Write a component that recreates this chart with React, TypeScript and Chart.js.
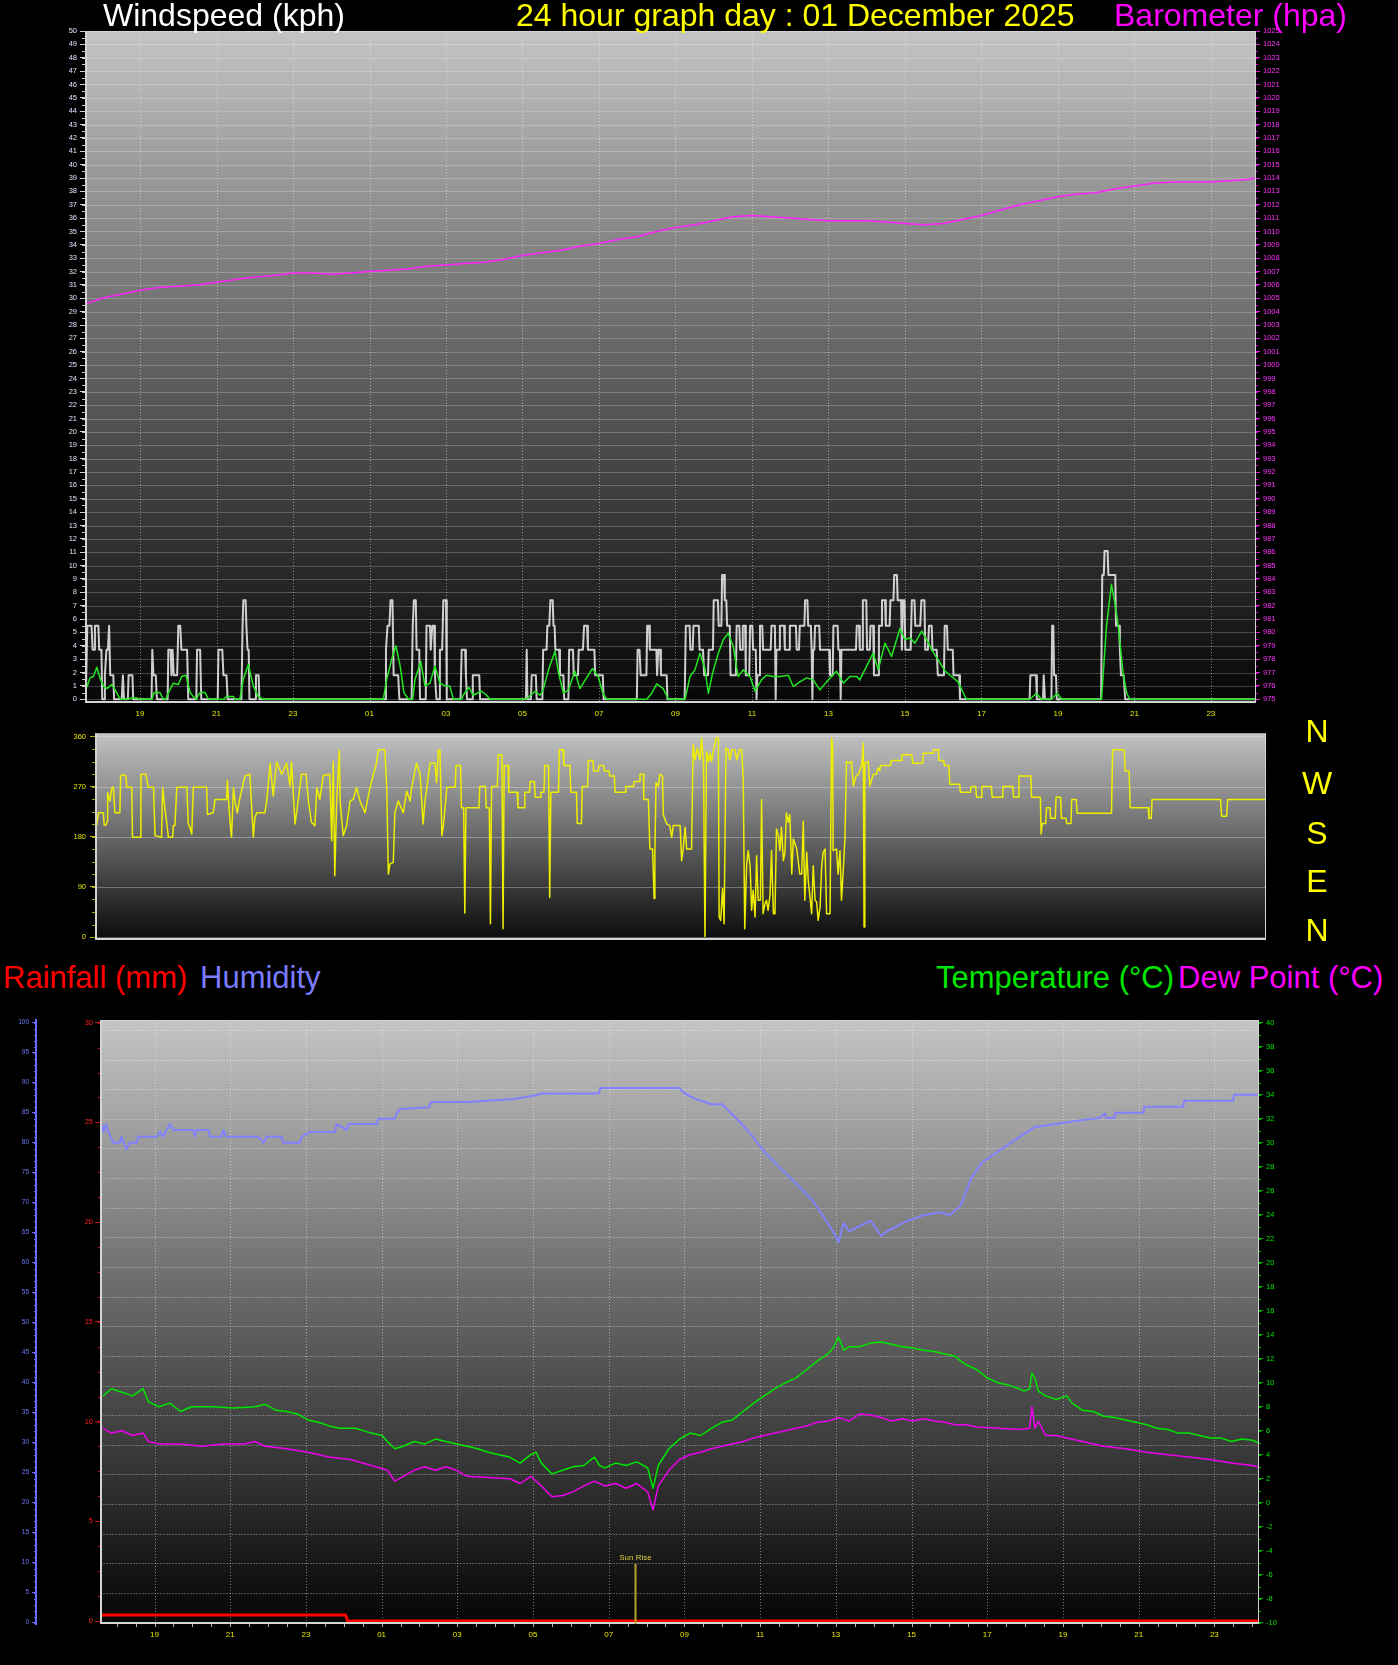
import React, { useEffect, useRef } from "react";
import { Chart, registerables } from "chart.js";

Chart.register(...registerables);

const FONT = "'Liberation Sans', Arial, Helvetica, sans-serif";

// ---- time axis (hours since the previous midnight) ----
const T_MIN = 17.56;
const T_MAX = 48.18;
const HOUR_TICKS = [19, 21, 23, 25, 27, 29, 31, 33, 35, 37, 39, 41, 43, 45, 47];
const HOUR_LABELS = ["19", "21", "23", "01", "03", "05", "07", "09", "11", "13", "15", "17", "19", "21", "23"];
const SUNRISE_T = 31.69;
const SUNRISE_LABEL = "Sun Rise";

// ---- barometer (hPa) ----
const BARO = [
  [17.6, 1004.6], [18.0, 1005.0], [18.5, 1005.3], [19.0, 1005.6], [19.5, 1005.8], [20.0, 1005.9], [20.5, 1006.0],
  [21.0, 1006.2], [21.5, 1006.4], [22.0, 1006.6], [22.5, 1006.7], [23.0, 1006.9], [23.5, 1006.9], [24.0, 1006.8],
  [24.5, 1006.9], [25.0, 1007.0], [25.5, 1007.1], [26.0, 1007.2], [26.5, 1007.4], [27.0, 1007.5], [27.5, 1007.6],
  [28.0, 1007.7], [28.5, 1007.9], [29.0, 1008.2], [29.5, 1008.4], [30.0, 1008.6], [30.5, 1008.9], [31.0, 1009.1],
  [31.5, 1009.4], [32.0, 1009.6], [32.5, 1010.0], [33.0, 1010.3], [33.5, 1010.5], [34.0, 1010.8], [34.5, 1011.1],
  [35.0, 1011.2], [35.5, 1011.1], [36.0, 1011.0], [36.5, 1010.9], [37.0, 1010.8], [37.5, 1010.8], [38.0, 1010.8],
  [38.5, 1010.7], [39.0, 1010.6], [39.5, 1010.5], [40.0, 1010.6], [40.5, 1010.9], [41.0, 1011.2], [41.5, 1011.6],
  [42.0, 1012.0], [42.5, 1012.3], [43.0, 1012.6], [43.5, 1012.8], [44.0, 1012.9], [44.5, 1013.2], [45.0, 1013.4],
  [45.5, 1013.6], [46.0, 1013.7], [46.5, 1013.7], [47.0, 1013.7], [47.5, 1013.8], [48.0, 1013.9], [48.16, 1014.0],
];

// ---- wind gust (kph) ----
const GUST = [
  [17.58, 0], [17.62, 5.5], [17.73, 5.5], [17.76, 3.7], [17.8, 3.7], [17.82, 5.5], [17.91, 5.5], [17.93, 3.7], [17.99, 3.7],
  [18.01, 0], [18.06, 0], [18.08, 1.8], [18.12, 3.7], [18.16, 3.7], [18.19, 5.5], [18.22, 1.8], [18.3, 1.8], [18.32, 0],
  [18.52, 0], [18.55, 1.8], [18.58, 0], [18.68, 0], [18.7, 1.8], [18.8, 1.8], [18.82, 0],
  [19.3, 0], [19.32, 3.7], [19.35, 1.8], [19.41, 1.8], [19.44, 0], [19.72, 0], [19.74, 3.7], [19.8, 3.7], [19.82, 1.8],
  [19.85, 3.7], [19.88, 1.8], [19.97, 1.8], [20.0, 5.5], [20.05, 5.5], [20.08, 3.7], [20.23, 3.7], [20.26, 0], [20.47, 0],
  [20.49, 3.7], [20.57, 3.7], [20.6, 0],
  [21.03, 0], [21.05, 3.7], [21.15, 3.7], [21.18, 1.8], [21.26, 1.8], [21.29, 0], [21.65, 0], [21.68, 5.5], [21.7, 7.4],
  [21.76, 7.4], [21.78, 5.5], [21.81, 3.7], [21.84, 3.7], [21.86, 0], [22.01, 0], [22.03, 1.8], [22.1, 1.8], [22.12, 0],
  [25.41, 0], [25.43, 3.7], [25.47, 5.5], [25.52, 5.5], [25.55, 7.4], [25.6, 7.4], [25.63, 1.8], [25.75, 1.8], [25.78, 0],
  [26.1, 0], [26.13, 5.5], [26.16, 7.4], [26.21, 7.4], [26.23, 3.7], [26.3, 3.7], [26.32, 0], [26.47, 0], [26.49, 5.5],
  [26.58, 5.5], [26.6, 3.7], [26.64, 5.5], [26.69, 5.5], [26.71, 1.8], [26.75, 0], [26.82, 0], [26.84, 3.7], [26.9, 3.7],
  [26.93, 7.4], [27.0, 7.4], [27.02, 0],
  [27.38, 0], [27.41, 3.7], [27.5, 3.7], [27.52, 1.8], [27.55, 0], [27.68, 0], [27.7, 1.8], [27.87, 1.8], [27.89, 0],
  [29.09, 0], [29.11, 3.7], [29.13, 0], [29.22, 0], [29.24, 1.8], [29.35, 1.8], [29.37, 0], [29.52, 0], [29.54, 3.7],
  [29.63, 3.7], [29.65, 5.5], [29.7, 5.5], [29.73, 7.4], [29.79, 7.4], [29.81, 5.5], [29.84, 5.5], [29.86, 3.7],
  [29.96, 3.7], [29.98, 1.8], [30.07, 1.8], [30.09, 0], [30.2, 0], [30.22, 3.7], [30.32, 3.7], [30.34, 1.8], [30.45, 1.8],
  [30.47, 3.7], [30.58, 3.7], [30.61, 5.5], [30.69, 5.5], [30.71, 3.7], [30.88, 3.7], [30.9, 1.8], [31.1, 1.8], [31.12, 0],
  [31.99, 0], [32.01, 3.7], [32.06, 3.7], [32.09, 1.8], [32.24, 1.8], [32.26, 5.5], [32.31, 5.5], [32.33, 3.7], [32.5, 3.7],
  [32.52, 1.8], [32.55, 3.7], [32.6, 3.7], [32.62, 1.8], [32.77, 1.8], [32.79, 0],
  [33.24, 0], [33.27, 5.5], [33.37, 5.5], [33.39, 3.7], [33.45, 3.7], [33.47, 5.5], [33.61, 5.5], [33.63, 3.7], [33.72, 3.7],
  [33.75, 1.8], [33.85, 1.8], [33.87, 3.7], [33.98, 3.7], [34.0, 7.4], [34.11, 7.4], [34.13, 5.5], [34.2, 5.5], [34.22, 9.3],
  [34.27, 9.3], [34.29, 7.4], [34.33, 7.4], [34.35, 5.5], [34.42, 5.5], [34.44, 1.8], [34.58, 1.8], [34.6, 5.5], [34.67, 5.5],
  [34.69, 3.7], [34.74, 3.7], [34.76, 5.5], [34.82, 5.5], [34.84, 1.8], [34.93, 1.8], [34.95, 5.5], [35.01, 5.5], [35.03, 3.7],
  [35.1, 3.7], [35.12, 0], [35.14, 1.8], [35.19, 1.8], [35.21, 5.5], [35.27, 5.5], [35.29, 3.7], [35.49, 3.7], [35.51, 5.5],
  [35.6, 5.5], [35.62, 0], [35.64, 3.7], [35.71, 3.7], [35.73, 5.5], [35.84, 5.5], [35.86, 3.7], [35.97, 3.7], [35.99, 5.5],
  [36.15, 5.5], [36.17, 3.7], [36.23, 3.7], [36.25, 5.5], [36.37, 5.5], [36.39, 7.4], [36.45, 7.4], [36.47, 5.5], [36.54, 5.5],
  [36.56, 3.7], [36.58, 0], [36.6, 3.7], [36.63, 3.7], [36.65, 5.5], [36.76, 5.5], [36.78, 3.7], [37.02, 3.7], [37.04, 1.8],
  [37.11, 1.8], [37.13, 5.5], [37.24, 5.5], [37.26, 3.7], [37.3, 3.7], [37.32, 0], [37.34, 3.7], [37.72, 3.7], [37.74, 5.5],
  [37.8, 5.5], [37.82, 3.7], [37.88, 3.7], [37.9, 7.4], [37.99, 7.4], [38.01, 3.7], [38.08, 3.7], [38.1, 5.5], [38.17, 5.5],
  [38.19, 1.8], [38.3, 1.8], [38.32, 5.5], [38.38, 5.5], [38.4, 7.4], [38.48, 7.4], [38.5, 5.5], [38.6, 5.5], [38.62, 7.4],
  [38.7, 7.4], [38.72, 9.3], [38.79, 9.3], [38.81, 7.4], [38.9, 7.4], [38.92, 3.7], [38.95, 7.4], [38.99, 7.4], [39.01, 3.7],
  [39.15, 3.7], [39.18, 7.4], [39.25, 7.4], [39.27, 5.5], [39.4, 5.5], [39.43, 7.4], [39.51, 7.4], [39.53, 3.7], [39.6, 3.7],
  [39.63, 5.5], [39.7, 5.5], [39.72, 3.7], [39.83, 3.7], [39.86, 1.8], [40.02, 1.8], [40.04, 5.5], [40.1, 5.5], [40.12, 3.7],
  [40.25, 3.7], [40.27, 1.8], [40.42, 1.8], [40.44, 0],
  [42.26, 0], [42.28, 1.8], [42.43, 1.8], [42.45, 0], [42.61, 0], [42.63, 1.8], [42.66, 0], [42.83, 0], [42.85, 5.5],
  [42.88, 5.5], [42.9, 1.8], [42.95, 1.8], [42.97, 0],
  [44.13, 0], [44.16, 9.3], [44.2, 9.3], [44.22, 11.1], [44.3, 11.1], [44.32, 9.3], [44.5, 9.3], [44.52, 5.5], [44.6, 5.5],
  [44.62, 3.7], [44.65, 1.8], [44.72, 1.8], [44.76, 0], [48.17, 0],
];

// ---- average wind speed (kph) ----
const AVG = [
  [17.58, 0.8], [17.62, 1.0], [17.69, 1.6], [17.78, 1.7], [17.87, 2.4], [17.95, 1.6], [18.04, 1.0], [18.13, 0.8], [18.26, 1.1],
  [18.35, 0.7], [18.48, 0], [18.69, 0], [18.78, 0.1], [18.91, 0.1], [18.98, 0], [19.31, 0], [19.37, 0.5], [19.52, 0.5],
  [19.61, 0], [19.68, 0], [19.74, 0.5], [19.87, 1.2], [20.0, 1.1], [20.09, 1.7], [20.2, 1.8], [20.31, 0.5], [20.39, 0.2],
  [20.48, 0], [20.52, 0.3], [20.57, 0.5], [20.7, 0.5], [20.79, 0], [21.2, 0], [21.25, 0.2], [21.44, 0.2], [21.48, 0],
  [21.61, 0], [21.7, 1.5], [21.83, 2.6], [21.96, 1.0], [22.09, 0.2], [22.22, 0],
  [25.36, 0], [25.45, 1.5], [25.58, 3.0], [25.69, 4.0], [25.8, 2.5], [25.9, 0.5], [26.02, 0], [26.13, 0], [26.19, 1.5],
  [26.34, 2.8], [26.45, 1.0], [26.58, 1.2], [26.71, 2.5], [26.84, 1.2], [26.97, 1.0], [27.1, 1.0], [27.19, 0], [27.41, 0],
  [27.45, 0.3], [27.6, 0.9], [27.71, 0.3], [27.93, 0.6], [28.06, 0.3], [28.15, 0],
  [29.07, 0], [29.15, 0.15], [29.33, 0.6], [29.46, 0.3], [29.54, 0.7], [29.68, 2.2], [29.85, 3.6], [29.94, 2.0], [30.07, 0.45],
  [30.2, 0.7], [30.37, 2.1], [30.5, 0.8], [30.63, 1.4], [30.83, 2.3], [30.98, 1.7], [31.1, 0.45], [31.2, 0],
  [32.25, 0], [32.38, 0.45], [32.51, 1.15], [32.68, 0.8], [32.81, 0], [33.25, 0], [33.38, 1.7], [33.51, 2.2], [33.64, 3.45],
  [33.77, 2.3], [33.86, 0.45], [33.97, 1.95], [34.12, 3.45], [34.25, 4.45], [34.38, 4.95], [34.51, 3.95], [34.64, 1.7],
  [34.77, 2.2], [34.95, 1.7], [35.08, 0.6], [35.25, 1.45], [35.38, 1.8], [35.56, 1.7], [35.73, 1.7], [35.95, 1.8], [36.08, 0.95],
  [36.25, 1.3], [36.43, 1.6], [36.6, 1.45], [36.78, 0.7], [36.95, 1.3], [37.21, 2.1], [37.39, 1.2], [37.56, 1.7], [37.74, 1.7],
  [37.82, 1.45], [37.95, 2.2], [38.17, 3.45], [38.3, 2.2], [38.48, 4.2], [38.65, 3.2], [38.87, 5.3], [39.0, 4.45], [39.13, 4.6],
  [39.26, 4.2], [39.44, 5.1], [39.57, 4.45], [39.7, 3.7], [39.87, 2.95], [40.05, 2.1], [40.22, 1.7], [40.39, 1.3], [40.53, 0.45],
  [40.61, 0], [42.27, 0], [42.44, 0.45], [42.57, 0], [42.83, 0], [42.98, 0.45], [43.1, 0], [44.14, 0], [44.27, 5.45],
  [44.4, 8.6], [44.49, 7.2], [44.58, 5.45], [44.71, 1.8], [44.8, 0.45], [44.88, 0], [48.17, 0],
];

// ---- wind direction (degrees) ----
const DIR = [
  [17.6, 200], [17.65, 223], [17.78, 223], [17.8, 201], [17.85, 201], [17.88, 208], [17.89, 259], [17.95, 244], [18.0, 268],
  [18.04, 269], [18.08, 223], [18.21, 223], [18.23, 289], [18.3, 292], [18.37, 289], [18.39, 269], [18.52, 269], [18.54, 179],
  [18.74, 179], [18.76, 292], [18.89, 292], [18.95, 269], [19.09, 269], [19.13, 182], [19.3, 179], [19.33, 268], [19.39, 229],
  [19.43, 208], [19.48, 179], [19.59, 179], [19.61, 200], [19.65, 200], [19.7, 269], [19.96, 269], [20.0, 203], [20.04, 197],
  [20.09, 185], [20.13, 269], [20.48, 269], [20.5, 220], [20.65, 223], [20.7, 247], [21.0, 247], [21.02, 281], [21.05, 247],
  [21.09, 208], [21.13, 179], [21.18, 268], [21.22, 244], [21.28, 223], [21.35, 250], [21.48, 289], [21.61, 292], [21.66, 229],
  [21.7, 179], [21.74, 214], [21.79, 223], [22.0, 223], [22.05, 244], [22.14, 312], [22.22, 253], [22.31, 314], [22.44, 292],
  [22.57, 312], [22.66, 271], [22.7, 314], [22.79, 203], [22.83, 223], [22.96, 292], [23.08, 292], [23.14, 244], [23.22, 206],
  [23.31, 200], [23.36, 268], [23.44, 247], [23.53, 290], [23.7, 292], [23.75, 173], [23.79, 315], [23.83, 110], [23.88, 244],
  [23.95, 336], [23.97, 244], [24.05, 182], [24.14, 200], [24.23, 244], [24.31, 247], [24.4, 268], [24.49, 244], [24.62, 223],
  [24.75, 268], [24.84, 292], [24.92, 312], [24.97, 336], [25.14, 336], [25.19, 265], [25.23, 113], [25.27, 131], [25.36, 134],
  [25.4, 223], [25.49, 244], [25.62, 223], [25.71, 262], [25.8, 244], [25.84, 268], [25.97, 312], [26.06, 292], [26.14, 203],
  [26.19, 244], [26.32, 312], [26.45, 312], [26.49, 277], [26.54, 336], [26.58, 336], [26.63, 182], [26.67, 200], [26.76, 268],
  [26.84, 269], [26.98, 269], [27.0, 308], [27.12, 308], [27.14, 232], [27.2, 232], [27.23, 43], [27.26, 232], [27.6, 232],
  [27.62, 270], [27.77, 270], [27.79, 232], [27.87, 232], [27.9, 24], [27.93, 270], [28.08, 270], [28.1, 327], [28.2, 327],
  [28.23, 15], [28.26, 308], [28.36, 308], [28.38, 260], [28.6, 260], [28.62, 232], [28.78, 232], [28.8, 260], [28.92, 260],
  [28.94, 279], [29.05, 279], [29.07, 251], [29.2, 251], [29.22, 260], [29.3, 260], [29.32, 308], [29.42, 308], [29.45, 71],
  [29.48, 260], [29.68, 260], [29.7, 336], [29.8, 336], [29.82, 308], [29.98, 308], [30.0, 260], [30.15, 260], [30.17, 204],
  [30.28, 204], [30.3, 270], [30.44, 270], [30.46, 317], [30.58, 317], [30.6, 298], [30.72, 298], [30.74, 308], [30.86, 308],
  [30.88, 298], [31.0, 298], [31.02, 289], [31.14, 289], [31.16, 260], [31.42, 260], [31.44, 270], [31.64, 270], [31.66, 279],
  [31.79, 279],
  [31.81, 292], [31.9, 292], [31.91, 247], [32.03, 247], [32.07, 158], [32.14, 158], [32.18, 69], [32.2, 149], [32.23, 277],
  [32.29, 271], [32.33, 292], [32.4, 289], [32.42, 220], [32.51, 203], [32.59, 200], [32.64, 179], [32.68, 200], [32.86, 200],
  [32.9, 137], [32.94, 158], [32.99, 197], [33.03, 158], [33.16, 158], [33.2, 345], [33.25, 318], [33.31, 339], [33.38, 318],
  [33.42, 357], [33.47, 315], [33.51, 1], [33.55, 333], [33.6, 315], [33.64, 330], [33.68, 315], [33.73, 333], [33.8, 357],
  [33.86, 357], [33.88, 36], [33.92, 30], [33.97, 87], [34.01, 24], [34.06, 339], [34.12, 336], [34.16, 318], [34.21, 336],
  [34.29, 336], [34.34, 318], [34.41, 336], [34.47, 336], [34.51, 283], [34.55, 15], [34.6, 131], [34.64, 155], [34.69, 128],
  [34.73, 48], [34.77, 84], [34.82, 36], [34.86, 146], [34.9, 66], [34.96, 66], [34.99, 247], [35.03, 42], [35.08, 60],
  [35.12, 66], [35.16, 48], [35.21, 75], [35.25, 155], [35.3, 42], [35.34, 42], [35.38, 194], [35.43, 182], [35.47, 155],
  [35.51, 197], [35.56, 137], [35.6, 152], [35.64, 223], [35.69, 206], [35.73, 220], [35.78, 113], [35.82, 176], [35.91, 158],
  [35.99, 113], [36.04, 113], [36.08, 208], [36.12, 66], [36.17, 152], [36.21, 102], [36.3, 42], [36.34, 128], [36.39, 66],
  [36.43, 63], [36.47, 30], [36.52, 54], [36.56, 125], [36.6, 152], [36.65, 158], [36.69, 42], [36.78, 42], [36.82, 357],
  [36.85, 339], [36.86, 155], [36.95, 158], [36.99, 113], [37.04, 155], [37.08, 66], [37.13, 125], [37.17, 179], [37.21, 315],
  [37.28, 312], [37.34, 315], [37.39, 271], [37.46, 289], [37.52, 292], [37.61, 309], [37.65, 348], [37.67, 18], [37.69, 312],
  [37.78, 315], [37.82, 271], [37.91, 292], [37.99, 292], [38.04, 304], [38.08, 298],
  [38.1, 308], [38.36, 308], [38.38, 317], [38.64, 317], [38.66, 327], [38.92, 327], [38.94, 312], [39.2, 312], [39.22, 330],
  [39.48, 330], [39.5, 336], [39.61, 336], [39.63, 317], [39.75, 317], [39.77, 308], [39.89, 308], [39.91, 274], [40.17, 274],
  [40.19, 260], [40.45, 260], [40.47, 270], [40.59, 270], [40.61, 251], [40.73, 251], [40.75, 270], [41.0, 270], [41.02, 251],
  [41.28, 251], [41.3, 270], [41.56, 270], [41.58, 251], [41.7, 251], [41.72, 289], [42.03, 289], [42.05, 251], [42.28, 251],
  [42.3, 185], [42.33, 204], [42.42, 204], [42.44, 232], [42.53, 232], [42.55, 213], [42.67, 213], [42.69, 251], [42.81, 251],
  [42.83, 213], [42.95, 213], [42.97, 204], [43.08, 204], [43.1, 247], [43.22, 247], [43.24, 222], [44.14, 222], [44.17, 336],
  [44.47, 336], [44.5, 298], [44.6, 298], [44.63, 232], [45.1, 232], [45.12, 213], [45.18, 213], [45.2, 247], [46.99, 247],
  [47.02, 217], [47.15, 217], [47.18, 247], [48.17, 247],
];

// ---- humidity (%) ----
const HUM = [
  [17.62, 83.0], [17.65, 81.8], [17.72, 83.1], [17.78, 81.8], [17.91, 80.0], [18.09, 80.0], [18.13, 81.0], [18.19, 80.0],
  [18.26, 78.9], [18.35, 80.0], [18.53, 80.0], [18.57, 81.0], [19.06, 81.0], [19.15, 81.8], [19.23, 81.0], [19.32, 82.1],
  [19.41, 83.1], [19.5, 82.1], [20.03, 82.1], [20.07, 81.0], [20.11, 82.1], [20.42, 82.1], [20.47, 81.0], [20.77, 81.0],
  [20.82, 82.1], [20.89, 81.0], [21.74, 81.0], [21.88, 80.0], [21.96, 81.0], [22.36, 81.0], [22.4, 80.0], [22.84, 80.0],
  [22.89, 81.0], [23.11, 81.8], [23.77, 81.8], [23.81, 83.1], [24.08, 82.1], [24.12, 83.1], [24.87, 83.1], [24.91, 84.0],
  [25.35, 84.0], [25.4, 85.0], [25.49, 85.6], [26.26, 85.9], [26.3, 86.8], [27.26, 86.8], [28.5, 87.3], [29.08, 87.9],
  [29.22, 88.2], [30.74, 88.2], [30.78, 89.1], [32.87, 89.1], [33.01, 88.2], [33.29, 87.3], [33.71, 86.4], [33.99, 86.4],
  [34.27, 84.7], [34.55, 82.9], [34.83, 80.8], [35.11, 78.5], [35.53, 75.8], [35.95, 73.2], [36.37, 70.5], [36.65, 67.9],
  [36.93, 65.2], [37.07, 63.4], [37.21, 66.6], [37.35, 65.2], [37.63, 66.1], [37.92, 67.0], [38.2, 64.4], [38.34, 65.2],
  [38.62, 66.1], [38.9, 67.0], [39.32, 67.9], [39.74, 68.4], [40.02, 67.9], [40.3, 69.6], [40.58, 74.1], [40.86, 76.7],
  [41.28, 78.5], [41.7, 80.3], [41.98, 81.5], [42.26, 82.6], [42.82, 83.1], [43.52, 83.8], [43.98, 84.1], [44.1, 84.9],
  [44.15, 84.1], [44.36, 84.1], [44.38, 85.0], [45.13, 85.0], [45.15, 86.0], [46.18, 86.0], [46.2, 87.0], [47.5, 87.0],
  [47.52, 88.0], [48.15, 88.0],
];

// ---- temperature (°C) ----
const TEMP = [
  [17.64, 8.9], [17.86, 9.5], [18.14, 9.2], [18.42, 8.9], [18.7, 9.5], [18.84, 8.4], [19.12, 8.0], [19.4, 8.3], [19.69, 7.6],
  [19.97, 8.0], [20.53, 8.0], [21.09, 7.9], [21.65, 8.0], [21.93, 8.2], [22.21, 7.7], [22.49, 7.6], [22.77, 7.4], [23.05, 6.9],
  [23.33, 6.7], [23.61, 6.4], [23.89, 6.2], [24.31, 6.2], [24.73, 5.8], [25.01, 5.6], [25.15, 5.1], [25.35, 4.5], [25.57, 4.7],
  [25.86, 5.1], [26.14, 4.9], [26.42, 5.3], [26.7, 5.1], [26.98, 4.9], [27.26, 4.7], [27.54, 4.5], [27.82, 4.2], [28.1, 4.0],
  [28.38, 3.8], [28.66, 3.3], [28.94, 4.0], [29.08, 4.2], [29.22, 3.3], [29.5, 2.4], [29.78, 2.7], [30.06, 3.0], [30.34, 3.1],
  [30.62, 3.8], [30.76, 3.1], [30.9, 2.9], [31.18, 3.3], [31.46, 3.1], [31.74, 3.4], [32.03, 2.9], [32.17, 1.2], [32.31, 3.1],
  [32.59, 4.5], [32.87, 5.3], [33.15, 5.8], [33.43, 5.6], [33.71, 6.2], [33.99, 6.7], [34.27, 6.9], [34.55, 7.6], [34.83, 8.3],
  [35.11, 8.9], [35.39, 9.5], [35.67, 10.0], [35.95, 10.4], [36.23, 11.1], [36.51, 11.8], [36.79, 12.4], [36.93, 12.9],
  [37.07, 13.8], [37.21, 12.7], [37.35, 13.0], [37.63, 13.0], [37.91, 13.3], [38.2, 13.4], [38.48, 13.2], [38.76, 13.0],
  [39.04, 12.9], [39.32, 12.7], [39.6, 12.6], [39.88, 12.4], [40.16, 12.2], [40.3, 11.8], [40.44, 11.5], [40.72, 11.1],
  [41.0, 10.4], [41.28, 10.0], [41.56, 9.8], [41.84, 9.5], [41.98, 9.3], [42.12, 9.5], [42.18, 10.8], [42.26, 10.4],
  [42.35, 9.3], [42.54, 8.9], [42.82, 8.6], [43.1, 8.9], [43.24, 8.3], [43.52, 7.7], [43.8, 7.6], [44.08, 7.2], [44.37, 7.1],
  [44.65, 6.9], [44.93, 6.7], [45.21, 6.5], [45.49, 6.2], [45.77, 6.1], [46.05, 5.8], [46.33, 5.8], [46.61, 5.6], [46.89, 5.4],
  [47.17, 5.4], [47.45, 5.1], [47.73, 5.3], [48.01, 5.2], [48.15, 5.0],
];

// ---- dew point (°C) ----
const DEW = [
  [17.64, 6.2], [17.86, 5.8], [18.14, 6.0], [18.42, 5.6], [18.7, 5.8], [18.84, 5.1], [19.12, 4.9], [19.69, 4.9], [20.25, 4.7],
  [20.81, 4.9], [21.37, 4.9], [21.65, 5.1], [21.93, 4.7], [22.49, 4.5], [23.05, 4.2], [23.61, 3.8], [24.17, 3.6], [24.73, 3.1],
  [25.15, 2.7], [25.35, 1.8], [25.57, 2.2], [25.86, 2.7], [26.14, 3.0], [26.42, 2.7], [26.7, 3.0], [26.98, 2.7], [27.26, 2.2],
  [27.82, 2.1], [28.38, 2.0], [28.66, 1.6], [28.94, 2.2], [29.22, 1.4], [29.5, 0.5], [29.78, 0.6], [30.06, 0.9], [30.34, 1.4],
  [30.62, 1.8], [30.9, 1.4], [31.18, 1.6], [31.46, 1.2], [31.74, 1.6], [32.03, 0.9], [32.17, -0.6], [32.31, 1.4], [32.59, 2.7],
  [32.87, 3.6], [33.15, 4.0], [33.43, 4.2], [33.71, 4.5], [33.99, 4.7], [34.27, 4.9], [34.55, 5.1], [34.83, 5.4], [35.11, 5.6],
  [35.39, 5.8], [35.67, 6.0], [35.95, 6.2], [36.23, 6.4], [36.51, 6.7], [36.79, 6.8], [37.07, 7.1], [37.35, 6.8], [37.63, 7.4],
  [37.91, 7.3], [38.2, 7.1], [38.48, 6.8], [38.76, 7.0], [39.04, 6.8], [39.32, 7.0], [39.6, 6.8], [39.88, 6.7], [40.16, 6.5],
  [40.44, 6.5], [40.72, 6.3], [41.28, 6.2], [41.84, 6.1], [42.12, 6.2], [42.18, 8.0], [42.26, 6.2], [42.35, 6.8], [42.54, 5.6],
  [42.82, 5.6], [43.1, 5.4], [43.52, 5.1], [44.08, 4.7], [44.65, 4.5], [45.21, 4.2], [45.77, 4.0], [46.33, 3.8], [46.89, 3.6],
  [47.45, 3.3], [48.01, 3.1], [48.15, 3.0],
];

// ---- rainfall (mm) ----
const RAIN = [[17.6, 0.3], [24.05, 0.3], [24.1, 0], [48.15, 0]];
const SUNRISE_MARK_MM = 2.86;

// ---- axis ticks ----
const range = (a: number, b: number, s: number) => {
  const out: number[] = [];
  for (let i = 0; a + i * s <= b + 1e-9; i++) out.push(+(a + i * s).toFixed(4));
  return out;
};
const WIND_TICKS = range(0, 50, 1);
const BARO_TICKS = range(975, 1025, 1);
const DIR_TICKS = [0, 90, 180, 270, 360];
const HUM_TICKS = range(0, 100, 5);
const RAIN_TICKS = range(0, 30, 5);
const TEMP_TICKS = range(-10, 40, 2);
const HUM_GRID_STEP = 4.94;

const pts = (a: number[][]) => a.map(([x, y]) => ({ x, y }));
const hourLabel = (v: number) => {
  const i = HOUR_TICKS.indexOf(v);
  return i >= 0 ? HOUR_LABELS[i] : "";
};

function makeDecor(cfg: any) {
  return {
    id: "decor",
    beforeDraw(chart: any) {
      const { ctx, chartArea: a } = chart;
      const g = ctx.createLinearGradient(0, a.top, 0, a.bottom);
      for (const [s, c] of cfg.bg) g.addColorStop(s, c);
      ctx.save();
      ctx.fillStyle = g;
      ctx.fillRect(a.left, a.top, a.right - a.left, a.bottom - a.top);
      ctx.restore();
    },
    beforeDatasetsDraw(chart: any) {
      const { ctx, chartArea: a } = chart;
      ctx.save();
      ctx.beginPath();
      ctx.rect(a.left, a.top, a.right - a.left, a.bottom - a.top);
      ctx.clip();
      for (const gr of cfg.grids) {
        const s = chart.scales[gr.id];
        ctx.strokeStyle = gr.color;
        ctx.lineWidth = 1;
        ctx.setLineDash(gr.dash || []);
        ctx.beginPath();
        for (const v of gr.values) {
          const p = Math.round(s.getPixelForValue(v)) + 0.5;
          if (s.isHorizontal()) {
            ctx.moveTo(p, a.top);
            ctx.lineTo(p, a.bottom);
          } else {
            ctx.moveTo(a.left, p);
            ctx.lineTo(a.right, p);
          }
        }
        ctx.stroke();
      }
      ctx.restore();
    },
    afterDatasetsDraw(chart: any) {
      const { ctx, chartArea: a } = chart;
      ctx.save();
      ctx.setLineDash([]);
      ctx.strokeStyle = cfg.frame;
      ctx.lineWidth = 1;
      ctx.strokeRect(a.left + 0.5, a.top + 0.5, a.right - a.left - 1, a.bottom - a.top - 1);
      ctx.lineWidth = 2;
      ctx.beginPath();
      ctx.moveTo(a.left + 1, a.top);
      ctx.lineTo(a.left + 1, a.bottom - 1);
      ctx.lineTo(a.right, a.bottom - 1);
      ctx.stroke();
      for (const m of cfg.minor) {
        const s = chart.scales[m.id];
        ctx.strokeStyle = m.color;
        ctx.lineWidth = 1;
        ctx.beginPath();
        for (const v of m.values) {
          const p = Math.round(s.getPixelForValue(v)) + 0.5;
          if (s.isHorizontal()) {
            ctx.moveTo(p, a.bottom);
            ctx.lineTo(p, a.bottom + m.len);
          } else if (s.position === "left") {
            ctx.moveTo(s.right, p);
            ctx.lineTo(s.right - m.len, p);
          } else {
            ctx.moveTo(s.left, p);
            ctx.lineTo(s.left + m.len, p);
          }
        }
        ctx.stroke();
      }
      if (cfg.sunrise) {
        const sr = cfg.sunrise;
        const sx = Math.round(chart.scales.x.getPixelForValue(sr.t)) + 0.5;
        const top = chart.scales[sr.scale].getPixelForValue(sr.v);
        ctx.strokeStyle = "#b4a22c";
        ctx.lineWidth = 2;
        ctx.beginPath();
        ctx.moveTo(sx, top);
        ctx.lineTo(sx, a.bottom);
        ctx.stroke();
        ctx.fillStyle = "#d8cf3c";
        ctx.font = `8px ${FONT}`;
        ctx.textAlign = "center";
        ctx.textBaseline = "middle";
        ctx.fillText(sr.label, sx, top - 6);
      }
      ctx.restore();
    },
  };
}

function xAxis(height: number, display = true) {
  return {
    type: "linear",
    min: T_MIN,
    max: T_MAX,
    display,
    afterBuildTicks: (s: any) => {
      s.ticks = HOUR_TICKS.map((v) => ({ value: v }));
    },
    afterFit: (s: any) => {
      s.height = height;
    },
    ticks: {
      color: "#e6e600",
      font: { family: FONT, size: 8 },
      padding: 6,
      autoSkip: false,
      maxRotation: 0,
      callback: (v: any) => hourLabel(v),
    },
    grid: { drawOnChartArea: false, drawTicks: false },
    border: { display: false },
  };
}

function yAxis(o: any) {
  return {
    type: "linear",
    position: o.pos,
    min: o.min,
    max: o.max,
    weight: o.weight || 0,
    afterBuildTicks: (s: any) => {
      s.ticks = o.ticks.map((v: number) => ({ value: v }));
    },
    afterFit: (s: any) => {
      s.width = o.width;
    },
    ticks: {
      color: o.color,
      font: { family: FONT, size: o.size || 7.5 },
      padding: o.padding,
      autoSkip: false,
      callback: (v: any) => String(v),
    },
    grid: { drawOnChartArea: false, drawTicks: true, tickLength: o.tickLength, tickColor: o.tickColor, tickWidth: 1 },
    border: o.border || { display: false },
  };
}

const BASE = {
  animation: false,
  responsive: false,
  maintainAspectRatio: false,
  devicePixelRatio: 1,
  events: [],
  plugins: { legend: { display: false }, tooltip: { enabled: false }, title: { display: false } },
  elements: { point: { radius: 0 }, line: { tension: 0, borderJoinStyle: "round" } },
};

const GRAD = [
  [0, "#c4c4c4"],
  [0.45, "#6a6a6a"],
  [1, "#050505"],
];

export default function App() {
  const r1 = useRef<HTMLCanvasElement>(null);
  const r2 = useRef<HTMLCanvasElement>(null);
  const r3 = useRef<HTMLCanvasElement>(null);

  useEffect(() => {
    document.body.style.margin = "0";
    document.body.style.background = "#000";

    const windChart = new Chart(r1.current as any, {
      type: "line",
      data: {
        datasets: [
          { data: pts(AVG), borderColor: "#22e622", borderWidth: 1.5, yAxisID: "y", pointRadius: 0 },
          { data: pts(GUST), borderColor: "rgba(238,238,238,0.85)", borderWidth: 2, yAxisID: "y", pointRadius: 0 },
          { data: pts(BARO), borderColor: "#ff22ff", borderWidth: 1.5, yAxisID: "y2", pointRadius: 0 },
        ],
      },
      options: {
        ...BASE,
        layout: { padding: { top: 31, left: 0, right: 0, bottom: 0 } },
        scales: {
          x: xAxis(22),
          y: yAxis({ pos: "left", min: -0.28, max: 50, ticks: WIND_TICKS, width: 85, color: "#dde4ff", padding: 3, tickLength: 5, tickColor: "#d8d8d8" }),
          y2: yAxis({ pos: "right", min: 974.72, max: 1025, ticks: BARO_TICKS, width: 142, color: "#ff33ff", padding: 3, tickLength: 4, tickColor: "#e020e0" }),
        },
      } as any,
      plugins: [
        makeDecor({
          bg: GRAD,
          frame: "#d4d4d4",
          grids: [
            { id: "y", values: WIND_TICKS, color: "rgba(255,255,255,0.22)" },
            { id: "x", values: HOUR_TICKS, color: "rgba(255,255,255,0.45)", dash: [1, 2] },
          ],
          minor: [
            { id: "y", values: range(0, 50, 0.5), len: 3, color: "#c8c8c8" },
            { id: "y2", values: range(975, 1025, 0.5), len: 2, color: "#d000d0" },
          ],
        }) as any,
      ],
    } as any);

    const dirChart = new Chart(r2.current as any, {
      type: "line",
      data: {
        datasets: [{ data: pts(DIR), borderColor: "#eeee00", borderWidth: 1.5, yAxisID: "y", pointRadius: 0 }],
      },
      options: {
        ...BASE,
        layout: { padding: { top: 7, left: 0, right: 132, bottom: 15 } },
        scales: {
          x: xAxis(0, false),
          y: yAxis({ pos: "left", min: -5.3, max: 365.3, ticks: DIR_TICKS, width: 95, color: "#e6e600", padding: 4, tickLength: 5, tickColor: "#b8b800" }),
        },
      } as any,
      plugins: [
        makeDecor({
          bg: [
            [0, "#c2c2c2"],
            [0.45, "#707070"],
            [1, "#0a0a0a"],
          ],
          frame: "#d4d4d4",
          grids: [{ id: "y", values: DIR_TICKS, color: "rgba(255,255,255,0.3)" }],
          minor: [{ id: "y", values: range(0, 360, 22.5), len: 3, color: "#a8a800" }],
        }) as any,
      ],
    } as any);

    const climateChart = new Chart(r3.current as any, {
      type: "line",
      data: {
        datasets: [
          { data: pts(RAIN), borderColor: "#ff0000", borderWidth: 3, yAxisID: "rain", pointRadius: 0 },
          { data: pts(TEMP), borderColor: "#00e600", borderWidth: 1.5, yAxisID: "temp", pointRadius: 0 },
          { data: pts(DEW), borderColor: "#ee00ee", borderWidth: 1.5, yAxisID: "temp", pointRadius: 0 },
          { data: pts(HUM), borderColor: "#8282ff", borderWidth: 2, yAxisID: "hum", pointRadius: 0 },
        ],
      },
      options: {
        ...BASE,
        layout: { padding: { top: 20, left: 0, right: 0, bottom: 0 } },
        scales: {
          x: xAxis(41),
          hum: yAxis({
            pos: "left", weight: 2, min: -0.217, max: 100.45, ticks: HUM_TICKS, width: 36, color: "#6f7cff", size: 6.5,
            padding: 3, tickLength: 4, tickColor: "#6a6aff", border: { display: true, color: "#6a6aff", width: 2 },
          }),
          rain: yAxis({ pos: "left", weight: 1, min: -0.15, max: 30.135, ticks: RAIN_TICKS, width: 64, color: "#ff2020", padding: 2, tickLength: 5, tickColor: "#d01010" }),
          temp: yAxis({ pos: "right", min: -10.108, max: 40.225, ticks: TEMP_TICKS, width: 139, color: "#00e600", padding: 3, tickLength: 4, tickColor: "#00c000" }),
        },
      } as any,
      plugins: [
        makeDecor({
          bg: GRAD,
          frame: "#d4d4d4",
          grids: [
            { id: "hum", values: range(1, 20, 1).map((k) => k * HUM_GRID_STEP), color: "rgba(255,255,255,0.28)", dash: [2, 1] },
            { id: "x", values: HOUR_TICKS, color: "rgba(255,255,255,0.45)", dash: [1, 2] },
          ],
          minor: [
            { id: "hum", values: range(0, 100, 1), len: 2, color: "#6a6aff" },
            { id: "rain", values: range(0, 30, 1.25), len: 2, color: "#d01010" },
            { id: "temp", values: range(-10, 40, 1), len: 2, color: "#00b000" },
            { id: "x", values: range(18, 48, 0.5), len: 3, color: "#b0b0b0" },
          ],
          sunrise: { t: SUNRISE_T, scale: "rain", v: SUNRISE_MARK_MM, label: SUNRISE_LABEL },
        }) as any,
      ],
    } as any);

    return () => {
      windChart.destroy();
      dirChart.destroy();
      climateChart.destroy();
    };
  }, []);

  const txt = (size: number): React.CSSProperties => ({
    position: "absolute",
    fontFamily: FONT,
    fontSize: size,
    lineHeight: `${size}px`,
    whiteSpace: "nowrap",
    margin: 0,
  });
  const compass: React.CSSProperties = { ...txt(32), left: 1297, width: 40, textAlign: "center", color: "#ffff00" };

  return (
    <div style={{ position: "absolute", left: 0, top: 0, width: 1398, height: 1665, background: "#000", overflow: "hidden" }}>
      <canvas ref={r1} width={1398} height={725} style={{ position: "absolute", left: 0, top: 0 }} />
      <canvas ref={r2} width={1398} height={230} style={{ position: "absolute", left: 0, top: 725 }} />
      <canvas ref={r3} width={1398} height={665} style={{ position: "absolute", left: 0, top: 1000 }} />

      <span style={{ ...txt(32), left: 103, top: -1, color: "#ffffff" }}>Windspeed (kph)</span>
      <span style={{ ...txt(32), left: 516, top: -1, color: "#ffff00" }}>24 hour graph day : 01 December 2025</span>
      <span style={{ ...txt(32), left: 1114, top: -1, color: "#ff00ff" }}>Barometer (hpa)</span>

      <span style={{ ...compass, top: 715 }}>N</span>
      <span style={{ ...compass, top: 767 }}>W</span>
      <span style={{ ...compass, top: 817 }}>S</span>
      <span style={{ ...compass, top: 865 }}>E</span>
      <span style={{ ...compass, top: 914 }}>N</span>

      <span style={{ ...txt(31), left: 3, top: 962, color: "#ff0000" }}>Rainfall (mm)</span>
      <span style={{ ...txt(31), left: 200, top: 962, color: "#7b7bff" }}>Humidity</span>
      <span style={{ ...txt(31), left: 936, top: 962, color: "#00e600" }}>Temperature (°C)</span>
      <span style={{ ...txt(31), left: 1178, top: 962, color: "#ff00ff" }}>Dew Point (°C)</span>
    </div>
  );
}
